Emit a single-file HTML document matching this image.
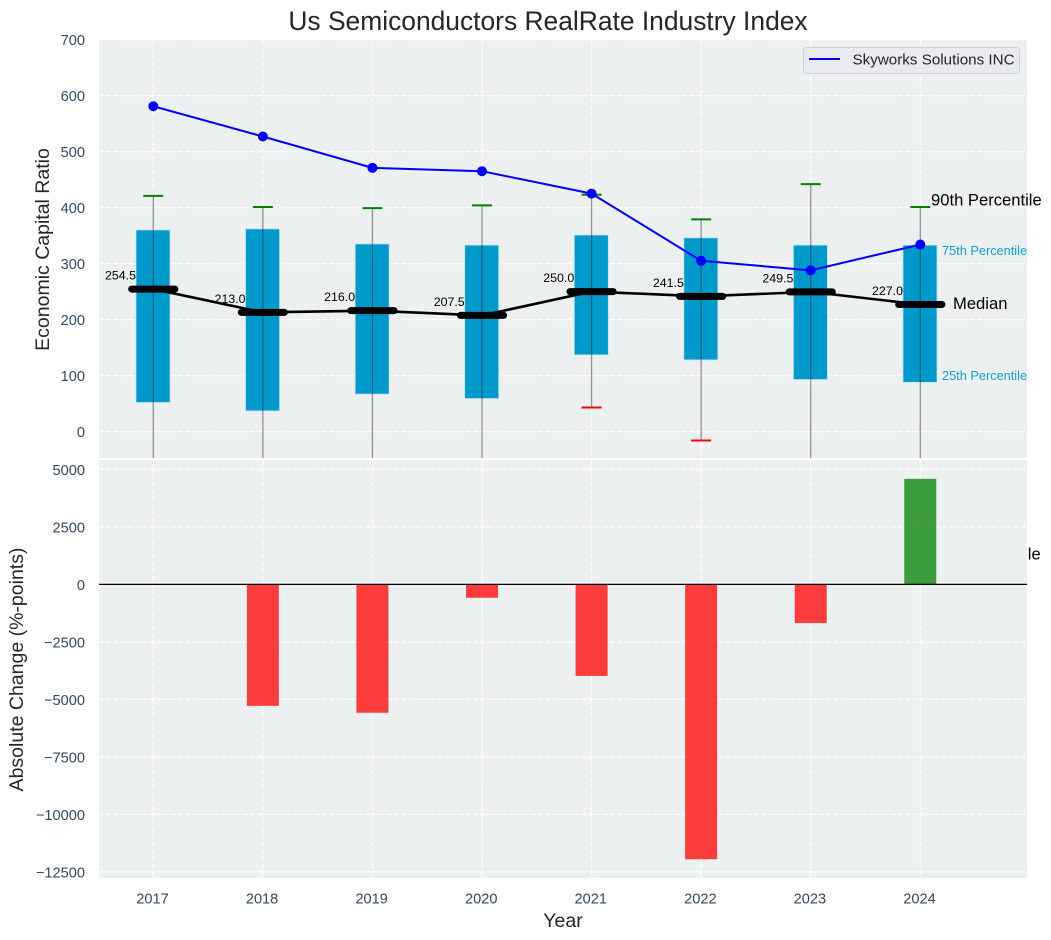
<!DOCTYPE html>
<html>
<head>
<meta charset="utf-8">
<title>Us Semiconductors RealRate Industry Index</title>
<style>
html,body{margin:0;padding:0;background:#fff;}
svg{display:block;font-family:"Liberation Sans",Arial,sans-serif;}
</style>
</head>
<body>
<svg id="chart" width="1051" height="940" viewBox="0 0 1051 940" xmlns="http://www.w3.org/2000/svg">
  <defs>
    <clipPath id="top-clip"><rect x="99" y="40" width="928" height="418"/></clipPath>
    <clipPath id="bottom-clip"><rect x="99" y="460" width="928" height="418"/></clipPath>
  </defs>
  <text x="548" y="30" font-size="26.4" fill="#262626" text-anchor="middle">Us Semiconductors RealRate Industry Index</text>
  <rect x="99" y="40" width="928" height="418" fill="#ecf0f1"/>
  <g id="top-grid" clip-path="url(#top-clip)"></g>
  <g id="top-marks" clip-path="url(#top-clip)"></g>
  <g id="top-ticks"></g>
  <g id="median-values"></g>
  <text transform="translate(49,249.500) rotate(-90)" font-size="19.5" fill="#262626" text-anchor="middle">Economic Capital Ratio</text>
  <text x="931" y="205.500" font-size="16.6" fill="#000">90th Percentile</text>
  <text x="942" y="255" font-size="12.75" fill="#0f9fd0">75th Percentile</text>
  <text x="953" y="309" font-size="16.6" fill="#000">Median</text>
  <text x="942" y="380" font-size="12.75" fill="#0f9fd0">25th Percentile</text>
  <text x="930" y="559.500" font-size="16.6" fill="#000">10th Percentile</text>
  <g>
    <rect x="803.500" y="47.500" width="216" height="26" rx="3" fill="#e9ebf0" stroke="#cfd1d4" stroke-width="1"/>
    <line x1="809" x2="840" y1="59" y2="59" stroke="#0000ff" stroke-width="2"/>
    <text x="852.500" y="64.500" font-size="15.2" fill="#262626">Skyworks Solutions INC</text>
  </g>
  <rect x="99" y="460" width="928" height="418" fill="#ecf0f1"/>
  <g id="bottom-grid" clip-path="url(#bottom-clip)"></g>
  <g id="bottom-marks" clip-path="url(#bottom-clip)"></g>
  <g id="bottom-ticks"></g>
  <g id="x-ticks"></g>
  <text transform="translate(23,669.500) rotate(-90)" font-size="19.5" fill="#262626" text-anchor="middle">Absolute Change (%-points)</text>
  <text x="563" y="927" font-size="19.5" fill="#262626" text-anchor="middle">Year</text>
</svg>
<script>
const years = [2017, 2018, 2019, 2020, 2021, 2022, 2023, 2024];
const p90 = [421, 401, 399, 404, 423, 379, 442, 401];
const p75 = [360, 362, 335, 333, 351, 346, 333, 333];
const median = [254.5, 213.0, 216.0, 207.5, 250.0, 241.5, 249.5, 227.0];
const p25 = [52, 37, 67, 59, 137, 128, 93, 88];
const p10 = [-70, -85, -62, -75, 43, -16, -50, -60];
const skyworks = [581, 527, 471, 465, 425, 305, 288, 334];
const absoluteChange = [null, -5280, -5580, -580, -3980, -11950, -1680, 4590];
const topTicks = [0, 100, 200, 300, 400, 500, 600, 700];
const bottomTicks = [5000, 2500, 0, -2500, -5000, -7500, -10000, -12500];

const NS = 'http://www.w3.org/2000/svg';
const xScale = v => 153.3 + (v - 2017) * 109.57;
const yTop = v => 431.6 - v * 0.56;
const yBottom = v => 584.4 - v * 0.023;

function make(parent, tag, attrs, content) {
  const el = document.createElementNS(NS, tag);
  for (const k in attrs) el.setAttribute(k, attrs[k]);
  if (content !== undefined) el.textContent = content;
  parent.appendChild(el);
  return el;
}
const byId = id => document.getElementById(id);
const gridStyle = {stroke: '#ffffff', 'stroke-width': 1.2, 'stroke-dasharray': '5 2.2', 'stroke-opacity': 1};
const tickText = t => String(t).replace('-', '\u2212');

topTicks.forEach(t => {
  const ln = make(byId('top-grid'), 'line', Object.assign({x1: 99, x2: 1027, y1: yTop(t), y2: yTop(t)}, gridStyle));
  
  
  const tx = make(byId('top-ticks'), 'text', {x: 85, y: yTop(t) + 5.4, 'font-size': 14.6, fill: '#34495e', 'text-anchor': 'end'}, tickText(t));
  
  
});
bottomTicks.forEach(t => {
  const ln = make(byId('bottom-grid'), 'line', Object.assign({x1: 99, x2: 1027, y1: yBottom(t), y2: yBottom(t)}, gridStyle));
  
  
  const tx = make(byId('bottom-ticks'), 'text', {x: 85, y: yBottom(t) + 5.6, 'font-size': 14.6, fill: '#34495e', 'text-anchor': 'end'}, tickText(t));
  
  
});
years.forEach(y => {
  const a = make(byId('top-grid'), 'line', Object.assign({x1: xScale(y), x2: xScale(y), y1: 40, y2: 458}, gridStyle));
  
  
  const b = make(byId('bottom-grid'), 'line', Object.assign({x1: xScale(y), x2: xScale(y), y1: 460, y2: 878}, gridStyle));
  
  
  const tx = make(byId('x-ticks'), 'text', {x: xScale(y) - 0.8, y: 903.5, 'font-size': 14.6, fill: '#34495e', 'text-anchor': 'middle'}, y);
  
  
});

const topMarks = byId('top-marks');
years.forEach((y, i) => {
  const box = make(topMarks, 'rect', {x: xScale(y) - 17.3, y: yTop(p75[i]), width: 34, height: yTop(p25[i]) - yTop(p75[i]), fill: '#0099cc', stroke: '#bfe3ef', 'stroke-width': 0.8});
  
  
});
years.forEach((y, i) => {
  const w = make(topMarks, 'line', {x1: xScale(y), x2: xScale(y), y1: yTop(p90[i]), y2: yTop(p10[i]), stroke: '#2b2b2b', 'stroke-opacity': 0.5, 'stroke-width': 1.3});
  
  
  const hi = make(topMarks, 'line', {x1: xScale(y) - 10, x2: xScale(y) + 10, y1: yTop(p90[i]), y2: yTop(p90[i]), stroke: '#008000', 'stroke-width': 2});
  
  
  const lo = make(topMarks, 'line', {x1: xScale(y) - 10, x2: xScale(y) + 10, y1: yTop(p10[i]), y2: yTop(p10[i]), stroke: '#ff0000', 'stroke-width': 2});
  
  
});
const medLine = make(topMarks, 'polyline', {points: years.map((y, i) => xScale(y) + ',' + yTop(median[i])).join(' '), fill: 'none', stroke: '#000', 'stroke-width': 2.6});


years.forEach((y, i) => {
  const m = make(topMarks, 'line', {x1: xScale(y) - 21.6, x2: xScale(y) + 21.6, y1: yTop(median[i]), y2: yTop(median[i]), stroke: '#000', 'stroke-width': 7, 'stroke-linecap': 'round'});
  
  
  const tx = make(byId('median-values'), 'text', {x: xScale(y) - 17.3, y: yTop(median[i]) - 9.5, 'font-size': 12.4, fill: '#000', 'text-anchor': 'end'}, median[i].toFixed(1));
  
  
});
const skyLine = make(topMarks, 'polyline', {points: years.map((y, i) => xScale(y) + ',' + yTop(skyworks[i])).join(' '), fill: 'none', stroke: '#0000ff', 'stroke-width': 2});


years.forEach((y, i) => {
  const c = make(topMarks, 'circle', {cx: xScale(y), cy: yTop(skyworks[i]), r: 5, fill: '#0000ff'});
  
  
});

const bottomMarks = byId('bottom-marks');
years.forEach((y, i) => {
  const v = absoluteChange[i];
  if (v === null) return;
  const bar = make(bottomMarks, 'rect', {x: xScale(y) - 16, y: Math.min(yBottom(v), yBottom(0)), width: 32, height: Math.abs(yBottom(v) - yBottom(0)), fill: v < 0 ? '#ff0000' : '#008000', 'fill-opacity': 0.75});
  
  
});
const zero = make(bottomMarks, 'line', {x1: 99, x2: 1027, y1: yBottom(0), y2: yBottom(0), stroke: '#000', 'stroke-width': 1.2});


</script>
</body>
</html>
